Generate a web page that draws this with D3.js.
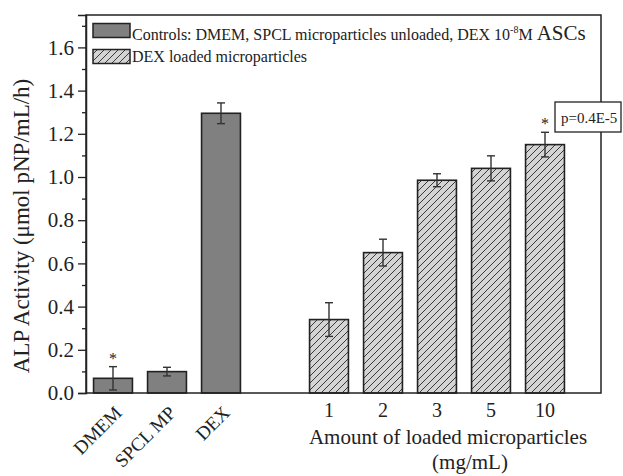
<!DOCTYPE html>
<html>
<head>
<meta charset="utf-8">
<script src="https://cdn.jsdelivr.net/npm/d3@7"></script>
<style>
  html, body { margin: 0; padding: 0; background: #fff; }
  svg { display: block; font-family: "Liberation Serif", "Times New Roman", serif; }
</style>
</head>
<body>
<svg id="chart" width="623" height="476"></svg>
<script>
// ---- data ----
const controlLabels = ["DMEM", "SPCL MP", "DEX"];
const controlValues = [0.068, 0.099, 1.295];
const controlErrors = [0.054, 0.020, 0.048];
const loadedLabels = ["1", "2", "3", "5", "10"];
const loadedValues = [0.340, 0.650, 0.985, 1.040, 1.150];
const loadedErrors = [0.078, 0.062, 0.030, 0.058, 0.057];
const starred = ["DMEM", "10"];
const yTicks = [0.0, 0.2, 0.4, 0.6, 0.8, 1.0, 1.2, 1.4, 1.6];
const yMinorTicks = [0.1, 0.3, 0.5, 0.7, 0.9, 1.1, 1.3, 1.5, 1.7];
const legendLabels = ["Controls: DMEM, SPCL microparticles unloaded, DEX 10", "DEX loaded microparticles"];
const pText = "p=0.4E-5";

// ---- layout ----
const svg = d3.select("#chart");
const plot = { left: 86, right: 601, top: 15, bottom: 393 };

const slots = [...controlLabels, "__gap__", ...loadedLabels];
const x = d3.scaleBand().domain(slots).range([86, 572]).paddingInner(0.28).paddingOuter(0.14);
const y = d3.scaleLinear().domain([0, 1.75]).range([plot.bottom, plot.top]);

const defs = svg.append("defs");
const pat = defs.append("pattern").attr("id", "hatch").attr("patternUnits", "userSpaceOnUse")
  .attr("width", 7).attr("height", 7);
pat.append("rect").attr("width", 7).attr("height", 7).attr("fill", "#d4d4d4");
pat.append("path").attr("d", "M-1,8 L8,-1 M-2,1 L1,-2 M6,9 L9,6")
  .attr("stroke", "#3a3a3a").attr("stroke-width", 1);

const bars = [
  ...controlLabels.map((k, i) => ({ key: k, v: controlValues[i], e: controlErrors[i], type: "control" })),
  ...loadedLabels.map((k, i) => ({ key: k, v: loadedValues[i], e: loadedErrors[i], type: "loaded" }))
];

// bars
svg.append("g").selectAll("rect").data(bars).join("rect")
  .attr("x", d => x(d.key))
  .attr("y", d => y(d.v))
  .attr("width", x.bandwidth())
  .attr("height", d => y(0) - y(d.v))
  .attr("fill", d => d.type === "control" ? "#808080" : "url(#hatch)")
  .attr("stroke", "#222")
  .attr("stroke-width", 1.6);

// error bars
const eg = svg.append("g").attr("stroke", "#333").attr("stroke-width", 1.4);
bars.forEach(d => {
  const cx = x(d.key) + x.bandwidth() / 2;
  eg.append("line").attr("x1", cx).attr("x2", cx).attr("y1", y(d.v + d.e)).attr("y2", y(d.v - d.e));
  eg.append("line").attr("x1", cx - 4).attr("x2", cx + 4).attr("y1", y(d.v + d.e)).attr("y2", y(d.v + d.e));
  eg.append("line").attr("x1", cx - 4).attr("x2", cx + 4).attr("y1", y(d.v - d.e)).attr("y2", y(d.v - d.e));
});

// stars
svg.append("g").selectAll("text").data(bars.filter(d => starred.includes(d.key))).join("text")
  .attr("x", d => x(d.key) + x.bandwidth() / 2)
  .attr("y", d => y(d.v + d.e) - 3)
  .attr("text-anchor", "middle")
  .attr("font-size", 16)
  .attr("fill", "#222")
  .text("*");

// frame
svg.append("rect").attr("x", plot.left).attr("y", plot.top)
  .attr("width", plot.right - plot.left).attr("height", plot.bottom - plot.top)
  .attr("fill", "none").attr("stroke", "#222").attr("stroke-width", 1.5);

// y axis
const yAxis = d3.axisLeft(y).tickValues(yTicks).tickFormat(d3.format(".1f")).tickSize(8).tickPadding(4);
const ya = svg.append("g").attr("transform", `translate(${plot.left},0)`).call(yAxis);
ya.select(".domain").attr("stroke", "#222").attr("stroke-width", 1.5);
ya.selectAll(".tick line").attr("stroke", "#222").attr("stroke-width", 1.3);
ya.selectAll(".tick text").attr("font-size", 21).attr("font-family", "Liberation Serif").attr("fill", "#222");
const yMinor = d3.axisLeft(y).tickValues(yMinorTicks).tickSize(4).tickFormat("");
const ym = svg.append("g").attr("transform", `translate(${plot.left},0)`).call(yMinor);
ym.select(".domain").remove();
ym.selectAll(".tick line").attr("stroke", "#222").attr("stroke-width", 1.3);

// x axis labels (loaded)
const xAxis = d3.axisBottom(x).tickValues(loadedLabels).tickSize(0).tickPadding(10);
const xa = svg.append("g").attr("transform", `translate(0,${plot.bottom})`).call(xAxis);
xa.select(".domain").remove();
xa.selectAll(".tick text").attr("font-size", 20).attr("font-family", "Liberation Serif").attr("fill", "#222");

// rotated control labels
svg.append("g").selectAll("text").data(controlLabels).join("text")
  .attr("transform", d => `translate(${x(d) + x.bandwidth() / 2 + 10},${plot.bottom + 21}) rotate(-45)`)
  .attr("text-anchor", "end")
  .attr("font-size", 19)
  .attr("fill", "#222")
  .text(d => d);

// x title
svg.append("text").attr("x", 448).attr("y", 444).attr("text-anchor", "middle")
  .attr("font-size", 21).attr("fill", "#222").text("Amount of loaded microparticles");
svg.append("text").attr("x", 470).attr("y", 469).attr("text-anchor", "middle")
  .attr("font-size", 21).attr("fill", "#222").text("(mg/mL)");

// y title
svg.append("text").attr("transform", "translate(29,226) rotate(-90)").attr("text-anchor", "middle")
  .attr("font-size", 23).attr("fill", "#222").text("ALP Activity (\u03bcmol pNP/mL/h)");

// legend
const lg = svg.append("g");
lg.append("rect").attr("x", 93).attr("y", 23.5).attr("width", 37).attr("height", 14)
  .attr("fill", "#808080").attr("stroke", "#222").attr("stroke-width", 1.5);
lg.append("rect").attr("x", 93).attr("y", 49.5).attr("width", 37).attr("height", 14)
  .attr("fill", "url(#hatch)").attr("stroke", "#222").attr("stroke-width", 1.5);
const t1 = lg.append("text").attr("x", 132).attr("y", 40).attr("font-size", 16).attr("fill", "#222");
t1.append("tspan").text(legendLabels[0]);
t1.append("tspan").attr("dy", -7).attr("font-size", 10).text("-8");
t1.append("tspan").attr("dy", 7).text("M ");
t1.append("tspan").attr("font-size", 21).text("ASCs");
lg.append("text").attr("x", 132).attr("y", 62).attr("font-size", 16).attr("fill", "#222").text(legendLabels[1]);

// p-value box
svg.append("rect").attr("x", 555).attr("y", 102).attr("width", 66).attr("height", 30)
  .attr("fill", "#fff").attr("stroke", "#222").attr("stroke-width", 1.3);
svg.append("text").attr("x", 561).attr("y", 123).attr("font-size", 15).attr("fill", "#222").text(pText);
</script>
</body>
</html>
